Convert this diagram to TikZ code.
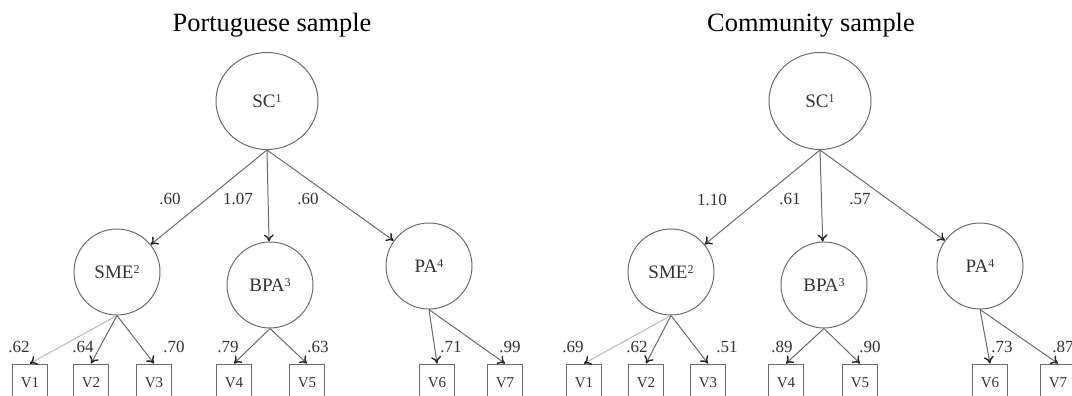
\documentclass[tikz,border=0pt]{standalone}
\usepackage{fontspec}
\setmainfont{Liberation Serif}
\usepackage{tikz}
\usetikzlibrary{shapes.geometric,arrows,arrows.meta}

\definecolor{linegray}{gray}{0.42}
\definecolor{lightline}{gray}{0.72}
\definecolor{textgray}{gray}{0.2}
\definecolor{tipgray}{gray}{0.15}
\newcommand{\supnum}[1]{\raisebox{0.55ex}{\fontsize{6}{7}\selectfont #1}}

\begin{document}
\begin{tikzpicture}[x=0.5pt,y=-0.5pt]
	\tikzstyle{title} = [inner sep = 0pt, font = \fontsize{13.2}{15}\selectfont]
	\tikzstyle{factor} = [circle, draw = linegray, line width = 0.5pt, minimum size = 43pt, inner sep = 0pt, text = textgray, font = \fontsize{9.5}{11}\selectfont]
	\tikzstyle{top factor} = [ellipse, draw = linegray, line width = 0.5pt, minimum width = 51pt, minimum height = 48.5pt, inner sep = 0pt, text = textgray, font = \fontsize{9.5}{11}\selectfont]
	\tikzstyle{item} = [rectangle, draw = linegray, line width = 0.5pt, minimum width = 17.5pt, minimum height = 19pt, inner sep = 0pt, text = textgray, font = \fontsize{7.5}{9}\selectfont]
	\tikzstyle{coef} = [inner sep = 0pt, text = textgray, font = \fontsize{8.5}{10}\selectfont]
	\tikzstyle{load} = [draw = linegray, line width = 0.5pt, -{To[length=3.5pt,width=5pt,line width=0.7pt,color=tipgray]}]
	\tikzstyle{light load} = [draw = lightline, line width = 0.5pt, -{To[length=3.5pt,width=5pt,line width=0.7pt,color=tipgray]}]

\useasboundingbox (0,0) rectangle (1072,396);
\clip (0,0) rectangle (1072,396);

% Portuguese sample
\node[title] (pTitle) at (272, 25) {Portuguese sample};
\node[top factor] (pSC) at (267, 101) {SC\supnum{1}};
\node[factor] (pSME) at (117, 272) {SME\supnum{2}};
\node[factor] (pBPA) at (270, 285) {BPA\supnum{3}};
\node[factor] (pPA) at (429, 266) {PA\supnum{4}};
\node[item] (pV1) at (30, 383) {V1};
\node[item] (pV2) at (91, 383) {V2};
\node[item] (pV3) at (154, 383) {V3};
\node[item] (pV4) at (234, 383) {V4};
\node[item] (pV5) at (307, 383) {V5};
\node[item] (pV6) at (437, 383) {V6};
\node[item] (pV7) at (505, 383) {V7};

\node[coef] (pc1) at (170, 199) {.60};
\node[coef] (pc2) at (238, 199) {1.07};
\node[coef] (pc3) at (308, 199) {.60};
\node[coef] (pc4) at (19, 347) {.62};
\node[coef] (pc5) at (83, 347) {.64};
\node[coef] (pc6) at (174, 347) {.70};
\node[coef] (pc7) at (228, 347) {.79};
\node[coef] (pc8) at (318, 347) {.63};
\node[coef] (pc9) at (451, 347) {.71};
\node[coef] (pc10) at (510, 347) {.99};

	\path[load] (pSC.south) -- (pSME);
	\path[load] (pSC.south) -- (pBPA);
	\path[load] (pSC.south) -- (pPA);
	\path[light load] (pSME.south) -- (pV1.north);
	\path[load] (pSME.south) -- (pV2.north);
	\path[load] (pSME.south) -- (pV3.north);
	\path[load] (pBPA.south) -- (pV4.north);
	\path[load] (pBPA.south) -- (pV5.north);
	\path[load] (pPA.south) -- (pV6.north);
	\path[load] (pPA.south) -- (pV7.north);

% Community sample
\node[title] (cTitle) at (811, 25) {Community sample};
\node[top factor] (cSC) at (820, 101) {SC\supnum{1}};
\node[factor] (cSME) at (671, 272) {SME\supnum{2}};
\node[factor] (cBPA) at (824, 285) {BPA\supnum{3}};
\node[factor] (cPA) at (980, 266) {PA\supnum{4}};
\node[item] (cV1) at (584, 383) {V1};
\node[item] (cV2) at (646, 383) {V2};
\node[item] (cV3) at (708, 383) {V3};
\node[item] (cV4) at (786, 383) {V4};
\node[item] (cV5) at (860, 383) {V5};
\node[item] (cV6) at (990, 383) {V6};
\node[item] (cV7) at (1058, 383) {V7};

\node[coef] (cc1) at (712, 200) {1.10};
\node[coef] (cc2) at (790, 199) {.61};
\node[coef] (cc3) at (860, 199) {.57};
\node[coef] (cc4) at (573, 347) {.69};
\node[coef] (cc5) at (637, 347) {.62};
\node[coef] (cc6) at (727, 347) {.51};
\node[coef] (cc7) at (782, 347) {.89};
\node[coef] (cc8) at (870, 347) {.90};
\node[coef] (cc9) at (1002, 347) {.73};
\node[coef] (cc10) at (1063, 347) {.87};

	\path[load] (cSC.south) -- (cSME);
	\path[load] (cSC.south) -- (cBPA);
	\path[load] (cSC.south) -- (cPA);
	\path[light load] (cSME.south) -- (cV1.north);
	\path[load] (cSME.south) -- (cV2.north);
	\path[load] (cSME.south) -- (cV3.north);
	\path[load] (cBPA.south) -- (cV4.north);
	\path[load] (cBPA.south) -- (cV5.north);
	\path[load] (cPA.south) -- (cV6.north);
	\path[load] (cPA.south) -- (cV7.north);
\end{tikzpicture}
\end{document}
